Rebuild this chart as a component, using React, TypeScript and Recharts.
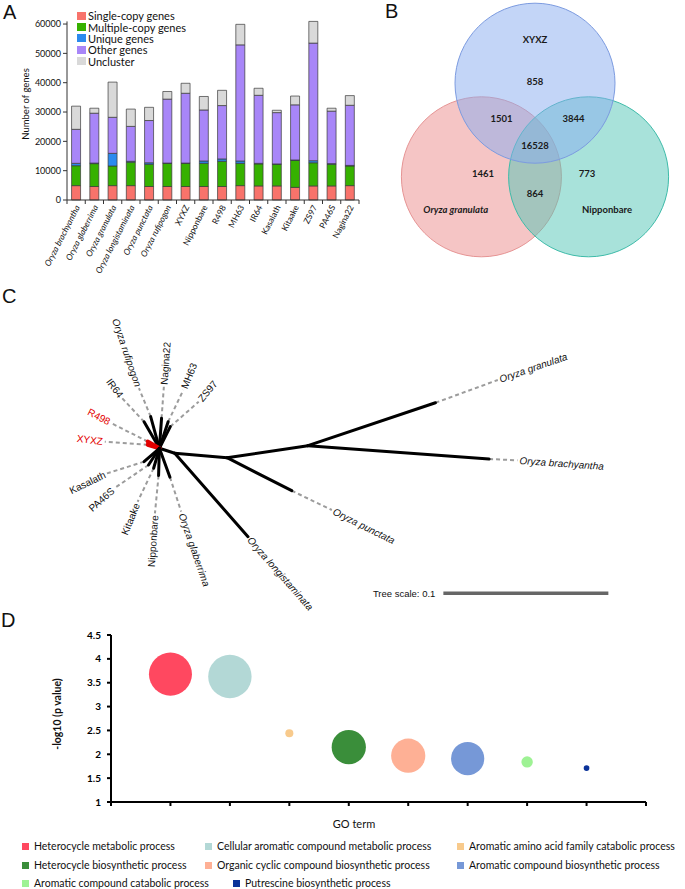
import React from 'react';
import { BarChart, Bar, XAxis, YAxis, ScatterChart, Scatter, ZAxis, Legend, Label } from 'recharts';

// ---- A: gene families per genome ----
const genomes = [
  'Oryza brachyantha', 'Oryza glaberrima', 'Oryza granulata', 'Oryza longistaminata',
  'Oryza punctata', 'Oryza rufipogon', 'XYXZ', 'Nipponbare', 'R498', 'MH63',
  'IR64', 'Kasalath', 'Kitaake', 'ZS97', 'PA46S', 'Nagina22',
];
const singleCopy = [4900, 4600, 4900, 4900, 4600, 4600, 4600, 4600, 4600, 4900, 4800, 4800, 4300, 4800, 4800, 4900];
const multiCopy = [6800, 7800, 6700, 8000, 7600, 7900, 7900, 7900, 8600, 7600, 7500, 7400, 9200, 7900, 7400, 6700];
const uniqueGenes = [800, 200, 4300, 300, 500, 100, 100, 800, 800, 800, 200, 100, 150, 700, 200, 200];
const otherGenes = [11600, 17000, 12300, 11900, 14400, 21800, 23800, 17400, 18200, 39600, 23200, 17500, 18800, 40100, 17900, 20500];
const unclustered = [7900, 1700, 12000, 5900, 4500, 2600, 3400, 4600, 5200, 7000, 2400, 800, 3000, 7400, 1000, 3300];
const geneClasses = ['Single-copy genes', 'Multiple-copy genes', 'Unique genes', 'Other genes', 'Uncluster'];
const geneColors = ['#F8736B', '#36B100', '#2B8AEE', '#A886F8', '#D9D9D9'];
const geneTicks = [0, 10000, 20000, 30000, 40000, 50000, 60000];

// ---- B: shared gene families ----
const vennSets = ['XYXZ', 'Oryza granulata', 'Nipponbare'];
const vennColors = ['#88ABEF', '#EC8C8C', '#52C5B5'];
const vennStrokes = ['#7C9BE0', '#E69494', '#3EBBA9'];
// XYXZ only, granulata only, Nipponbare only, X+G, X+N, G+N, all three
const vennCounts = [858, 1461, 773, 1501, 3844, 864, 16528];

// diagram layout, in circle radii
const vennCircleX = [0, -0.67, 0.67];
const vennCircleY = [0.78, -0.39, -0.39];
const vennCountX = [0, -0.65, 0.65, -0.42, 0.48, 0, 0];
const vennCountY = [0.8, -0.35, -0.35, 0.34, 0.34, -0.6, 0];
const vennNameX = [0, -0.99, 0.9];
const vennNameY = [1.33, -0.8, -0.8];

// ---- C: unrooted tree (branch length units) ----
const treeNodes = ['root', 'n0', 'n1', 'n2'];
const treeNodeParent = ['', 'root', 'n0', 'n1'];
const treeNodeX = [0, 0.0093, 0.041, 0.09];
const treeNodeY = [0, -0.003, -0.0057, 0.0016];

const treeTaxa = [
  'Oryza granulata', 'Oryza brachyantha', 'Oryza punctata', 'Oryza longistaminata',
  'Oryza rufipogon', 'IR64', 'Nagina22', 'MH63', 'ZS97', 'R498', 'XYXZ',
  'Kasalath', 'PA46S', 'Kitaake', 'Nipponbare', 'Oryza glaberrima',
];
const treeTaxonParent = ['n2', 'n2', 'n1', 'n0', 'root', 'root', 'root', 'root', 'root', 'root', 'root', 'root', 'root', 'root', 'root', 'root'];
const treeTipX = [0.1673, 0.1998, 0.0802, 0.0537, -0.0053, -0.0093, 0.0013, 0.0053, 0.0066, -0.0071, -0.0071, -0.0093, -0.0066, -0.0035, -0.0005, 0.0064];
const treeTipY = [0.0276, -0.0065, -0.0257, -0.0536, 0.0192, 0.0161, 0.0182, 0.0161, 0.0131, 0.0041, 0.0021, -0.0081, -0.0101, -0.0121, -0.0165, -0.0175];
const treeLabelX = [0.2051, 0.217, 0.1045, 0.0537, -0.0124, -0.0225, 0.0027, 0.0145, 0.0238, -0.0291, -0.0331, -0.0318, -0.0273, -0.0132, -0.0027, 0.0132];
const treeLabelY = [0.0414, -0.0073, -0.0374, -0.0536, 0.0364, 0.0303, 0.0373, 0.0353, 0.0282, 0.0152, 0.004, -0.0152, -0.0242, -0.0324, -0.0394, -0.0384];
const highlightedTaxa = ['R498', 'XYXZ'];
const treeScale = 0.1;

// ---- D: GO enrichment ----
const goTerms = [
  'Heterocycle metabolic process', 'Cellular aromatic compound metabolic process',
  'Aromatic amino acid family catabolic process', 'Heterocycle biosynthetic process',
  'Organic cyclic compound biosynthetic process', 'Aromatic compound biosynthetic process',
  'Aromatic compound catabolic process', 'Putrescine biosynthetic process',
];
const goLogP = [3.68, 3.63, 2.44, 2.15, 1.97, 1.91, 1.84, 1.71];
const goGeneCount = [57, 58, 2, 36, 36, 34, 4, 1];
const goColors = ['#FF4860', '#B3D8D6', '#F8CA8C', '#3A8E3A', '#FEB095', '#7698D7', '#9EF294', '#0B3399'];
const goYTicks = [1, 1.5, 2, 2.5, 3, 3.5, 4, 4.5];
const goXTicks = [0, 1, 2, 3, 4, 5, 6, 7, 8, 9];

const CAL = 'Lato, "Open Sans", sans-serif';
const ARIAL = '"Liberation Sans", Arial, sans-serif';

const blank = () => <g />;

const genomeRows = genomes.map((genome, i) => ({
  genome,
  single: singleCopy[i],
  multiple: multiCopy[i],
  unique: uniqueGenes[i],
  other: otherGenes[i],
  uncluster: unclustered[i],
}));
const geneKeys = ['single', 'multiple', 'unique', 'other', 'uncluster'];

const GenomeTick = (props: any) => {
  const { x, y, payload, index } = props;
  const half = payload.offset || 9.1;
  const tx = x + 4;
  const ty = y + 7;
  return (
    <g>
      <line x1={x - half} x2={x - half} y1={y} y2={y + 4} stroke="#333" />
      {index === genomes.length - 1 && <line x1={x + half} x2={x + half} y1={y} y2={y + 4} stroke="#333" />}
      <text
        x={tx}
        y={ty}
        transform={`rotate(-63 ${tx} ${ty})`}
        textAnchor="end"
        fontSize={8.5}
        fontFamily={CAL}
        fontStyle={payload.value.startsWith('Oryza') ? 'italic' : 'normal'}
        fill="#111"
      >
        {payload.value}
      </text>
    </g>
  );
};

const GeneLegend = () => (
  <div style={{ fontFamily: CAL, fontSize: 11, color: '#111' }}>
    {geneClasses.map((c, i) => (
      <div key={c} style={{ display: 'flex', alignItems: 'center', height: 11.4, whiteSpace: 'nowrap' }}>
        <span style={{ display: 'inline-block', width: 9, height: 8, background: geneColors[i], marginRight: 2 }} />
        <span>{c}</span>
      </div>
    ))}
  </div>
);

const GenePanel = () => (
  <BarChart width={365} height={280} data={genomeRows} margin={{ top: 21.4, right: 6, left: 0, bottom: 0 }} barCategoryGap="25%">
    <XAxis dataKey="genome" height={80} interval={0} tickSize={0} tickMargin={0} tickLine={false} stroke="#333" tick={<GenomeTick />} />
    <YAxis
      width={67}
      domain={[0, 'dataMax']}
      ticks={geneTicks}
      interval={0}
      tickSize={4}
      tickMargin={2}
      stroke="#333"
      tick={{ fontSize: 9, fontFamily: CAL, fill: '#111' }}
    >
      <Label
        content={() => (
          <text x={25} y={104} transform="rotate(-90 25 104)" textAnchor="middle" dominantBaseline="central" fontSize={9.5} fontFamily={CAL} fill="#111">
            Number of genes
          </text>
        )}
      />
    </YAxis>
    <Legend layout="vertical" align="center" verticalAlign="middle" content={<GeneLegend />} wrapperStyle={{ left: 77, top: 10, width: 'auto', height: 'auto' }} />
    {geneKeys.map((k, i) => (
      <Bar key={k} dataKey={k} name={geneClasses[i]} stackId="genes" fill={geneColors[i]} stroke="#3a3a3a" strokeWidth={0.7} isAnimationActive={false} />
    ))}
  </BarChart>
);

// ---- B ----
const VENN_UNIT = 80;
const vennCircles = vennSets.map((name, i) => ({ x: vennCircleX[i], y: vennCircleY[i], r: 1, name }));
const vennCountData = vennCounts.map((v, i) => ({ x: vennCountX[i], y: vennCountY[i], text: String(v), italic: false }));
const vennNameData = vennSets.map((s, i) => ({ x: vennNameX[i], y: vennNameY[i], text: s, italic: s.startsWith('Oryza') }));

const vennCircleShape = (i: number) => (p: any) => {
  const r = p.width ? p.width / 2 : Math.sqrt((p.size || 0) / Math.PI);
  return <circle cx={p.cx} cy={p.cy} r={r} fill={vennColors[i]} fillOpacity={0.5} stroke={vennStrokes[i]} strokeWidth={1} />;
};

const VennText = (p: any) => (
  <text
    x={p.cx}
    y={p.cy}
    textAnchor="middle"
    dominantBaseline="central"
    fontSize={9.5}
    fontWeight="bold"
    fontStyle={p.payload.italic ? 'italic' : 'normal'}
    fontFamily={CAL}
    fill="#1a1a1a"
  >
    {p.payload.text}
  </text>
);

const VennPanel = () => (
  <ScatterChart width={305} height={280} margin={{ top: 0, right: 0, left: 0, bottom: 0 }}>
    <XAxis type="number" dataKey="x" domain={[-1.9375, 1.875]} hide allowDataOverflow height={0} />
    <YAxis type="number" dataKey="y" domain={[-1.68, 1.82]} hide allowDataOverflow width={0} />
    <ZAxis type="number" dataKey="r" domain={[0, 1]} range={[0, Math.PI * VENN_UNIT * VENN_UNIT]} />
    {[1, 2, 0].map((i) => (
      <Scatter key={vennSets[i]} name={vennSets[i]} data={[vennCircles[i]]} shape={vennCircleShape(i)} isAnimationActive={false} />
    ))}
    <Scatter name="counts" data={vennCountData} shape={VennText} isAnimationActive={false} />
    <Scatter name="sets" data={vennNameData} shape={VennText} isAnimationActive={false} />
  </ScatterChart>
);

// ---- C ----
const nodePos = (id: string) => {
  const i = treeNodes.indexOf(id);
  return { x: treeNodeX[i], y: treeNodeY[i] };
};

type Seg = { pts: { x: number; y: number }[]; stroke: string; width: number; dash?: string };
const guideSegs: Seg[] = [];
const branchSegs: Seg[] = [];
treeNodes.forEach((id, i) => {
  if (treeNodeParent[i]) branchSegs.push({ pts: [nodePos(treeNodeParent[i]), nodePos(id)], stroke: '#000', width: 3 });
});
treeTaxa.forEach((t, i) => {
  const from = nodePos(treeTaxonParent[i]);
  const tip = { x: treeTipX[i], y: treeTipY[i] };
  const end = { x: treeLabelX[i], y: treeLabelY[i] };
  const red = highlightedTaxa.includes(t);
  branchSegs.push({ pts: [from, tip], stroke: red ? '#E30000' : '#000', width: red ? 4 : 3 });
  if (end.x !== tip.x || end.y !== tip.y) guideSegs.push({ pts: [tip, end], stroke: '#9c9c9c', width: 2, dash: '4 3' });
});

const treeLabelData = treeTaxa.map((t, i) => {
  const from = nodePos(treeTaxonParent[i]);
  const dx = treeLabelX[i] - from.x;
  const dy = treeLabelY[i] - from.y;
  return {
    x: treeLabelX[i],
    y: treeLabelY[i],
    name: t,
    angle: (Math.atan2(-dy, dx) * 180) / Math.PI,
    red: highlightedTaxa.includes(t),
  };
});

const TaxonLabel = (p: any) => {
  const { cx, cy, payload } = p;
  const a = payload.angle;
  const right = Math.abs(a) <= 90;
  const rot = right ? a : a > 0 ? a - 180 : a + 180;
  const rad = (a * Math.PI) / 180;
  const gx = cx + Math.cos(rad) * 2;
  const gy = cy + Math.sin(rad) * 2;
  return (
    <text
      x={gx}
      y={gy}
      transform={`rotate(${rot} ${gx} ${gy})`}
      textAnchor={right ? 'start' : 'end'}
      dominantBaseline="central"
      fontSize={10}
      fontFamily={ARIAL}
      fontStyle={payload.name.startsWith('Oryza') ? 'italic' : 'normal'}
      fill={payload.red ? '#E30000' : '#111'}
    >
      {payload.name}
    </text>
  );
};

const scaleBar = [
  { x: 0.1721, y: -0.0879 },
  { x: 0.1721 + treeScale, y: -0.0879 },
];

const ScaleText = (p: any) =>
  p.index === 0 ? (
    <text x={p.cx - 8} y={p.cy} textAnchor="end" dominantBaseline="central" fontSize={9.5} fontFamily={ARIAL} fill="#111">
      {`Tree scale: ${treeScale}`}
    </text>
  ) : (
    <g />
  );

// the tree panel runs a little into panel D so the longest label is not clipped
const TreePanel = () => (
  <ScatterChart width={685} height={345} margin={{ top: 0, right: 0, left: 0, bottom: 0 }}>
    <XAxis type="number" dataKey="x" domain={[-0.09661, 0.31855]} hide allowDataOverflow height={0} />
    <YAxis type="number" dataKey="y" domain={[-0.10709, 0.102]} hide allowDataOverflow width={0} />
    {guideSegs.concat(branchSegs).map((s, i) => (
      <Scatter
        key={i}
        data={s.pts}
        line={{ stroke: s.stroke, strokeWidth: s.width, strokeDasharray: s.dash, strokeLinecap: s.dash ? 'butt' : 'round' }}
        shape={blank}
        isAnimationActive={false}
      />
    ))}
    <Scatter data={scaleBar} line={{ stroke: '#666', strokeWidth: 3.5 }} shape={ScaleText} isAnimationActive={false} />
    <Scatter data={treeLabelData} shape={TaxonLabel} isAnimationActive={false} />
  </ScatterChart>
);

// ---- D ----
const GO_LEGEND_POS = [
  [22, 236], [205, 236], [457, 236],
  [22, 255], [205, 255], [457, 255],
  [22, 273], [233, 273],
];

const GoLegend = () => (
  <div style={{ position: 'relative', width: 685, height: 60 }}>
    {goTerms.map((t, i) => (
      <div
        key={t}
        style={{
          position: 'absolute',
          left: GO_LEGEND_POS[i][0],
          top: GO_LEGEND_POS[i][1] - 7,
          height: 14,
          display: 'flex',
          alignItems: 'center',
          whiteSpace: 'nowrap',
          fontFamily: CAL,
          fontSize: 10.5,
          color: '#111',
        }}
      >
        <span style={{ display: 'inline-block', width: 7, height: 7, background: goColors[i], marginRight: 5 }} />
        <span>{t}</span>
      </div>
    ))}
  </div>
);

const GoPanel = () => (
  <ScatterChart width={685} height={279} margin={{ top: 25, right: 39, left: 0, bottom: 0 }}>
    <XAxis
      type="number"
      dataKey="x"
      domain={[0, 9]}
      ticks={goXTicks}
      interval={0}
      height={87}
      tickSize={4}
      tickFormatter={() => ''}
      stroke="#000"
      strokeWidth={2}
      allowDataOverflow
    >
      <Label
        content={() => (
          <text x={354} y={213} textAnchor="middle" dominantBaseline="central" fontSize={11} fontFamily={CAL} fill="#111">
            GO term
          </text>
        )}
      />
    </XAxis>
    <YAxis
      type="number"
      dataKey="y"
      domain={[1, 4.5]}
      ticks={goYTicks}
      interval={0}
      width={111}
      tickSize={4}
      tickMargin={6}
      stroke="#000"
      strokeWidth={2}
      tick={{ fontSize: 10, fontFamily: CAL, fontWeight: 'bold', fill: '#000' }}
      allowDataOverflow
    >
      <Label
        content={() => (
          <text x={57} y={104} transform="rotate(-90 57 104)" textAnchor="middle" dominantBaseline="central" fontSize={10.5} fontWeight="bold" fontFamily={CAL} fill="#111">
            -log10 (p value)
          </text>
        )}
      />
    </YAxis>
    <ZAxis type="number" dataKey="z" domain={[0, 58]} range={[0, 1480]} />
    <Legend layout="vertical" align="center" verticalAlign="middle" content={<GoLegend />} wrapperStyle={{ left: 0, top: 0, width: 685, height: 279 }} />
    {goTerms.map((t, i) => (
      <Scatter key={t} name={t} data={[{ x: i + 1, y: goLogP[i], z: goGeneCount[i] }]} fill={goColors[i]} isAnimationActive={false} />
    ))}
  </ScatterChart>
);

const letterStyle = (left: number, top: number): React.CSSProperties => ({
  position: 'absolute',
  left,
  top,
  fontFamily: ARIAL,
  fontSize: 20,
  lineHeight: '20px',
  color: '#111',
});

export default function App() {
  return (
    <div style={{ position: 'absolute', left: 0, top: 0, width: 685, height: 889, background: '#fff', overflow: 'hidden' }}>
      <div style={{ position: 'absolute', left: 0, top: 610 }}>
        <GoPanel />
      </div>
      <div style={{ position: 'absolute', left: 0, top: 0 }}>
        <GenePanel />
      </div>
      <div style={{ position: 'absolute', left: 380, top: 0 }}>
        <VennPanel />
      </div>
      <div style={{ position: 'absolute', left: 0, top: 280 }}>
        <TreePanel />
      </div>
      <div style={letterStyle(3, 2)}>A</div>
      <div style={letterStyle(385, 1)}>B</div>
      <div style={letterStyle(2, 286)}>C</div>
      <div style={letterStyle(1, 610)}>D</div>
    </div>
  );
}
